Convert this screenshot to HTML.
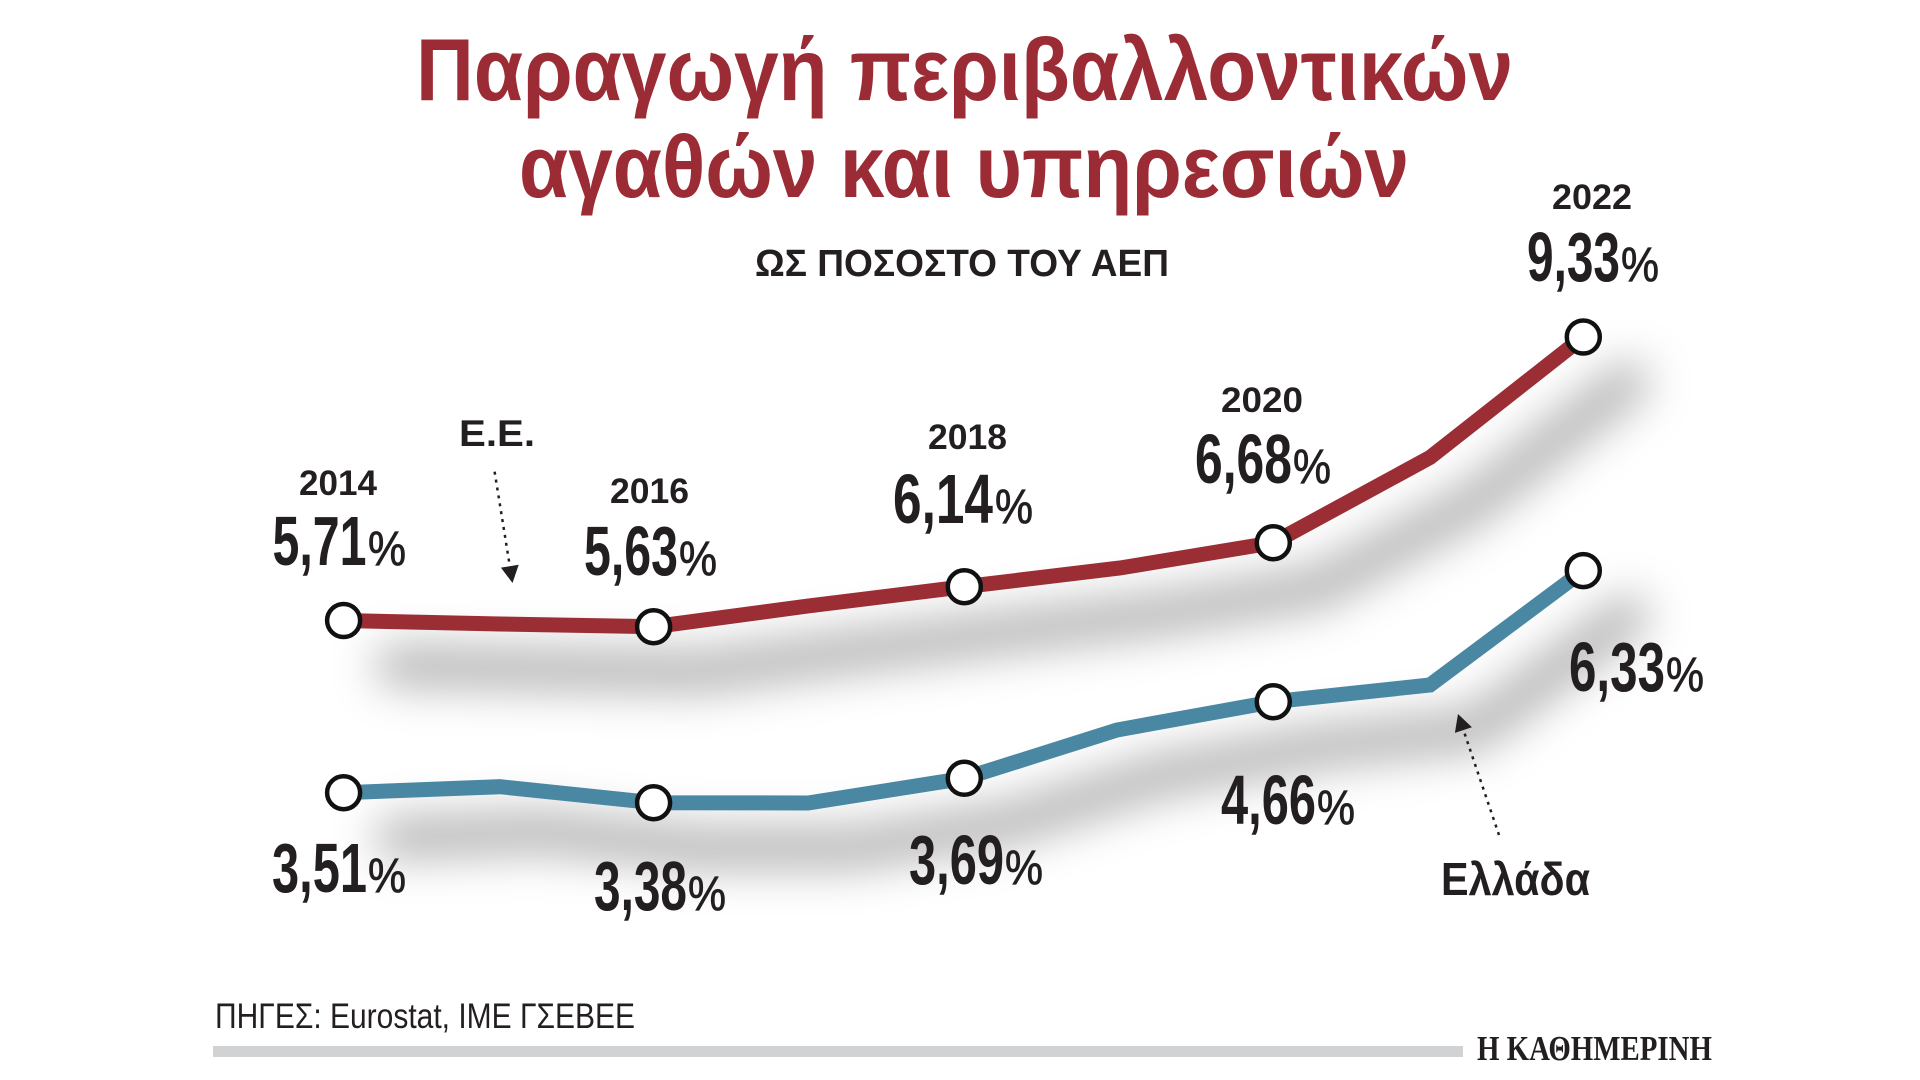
<!DOCTYPE html>
<html><head><meta charset="utf-8"><style>
html,body{margin:0;padding:0;background:#fff;width:1920px;height:1080px;overflow:hidden}
svg{display:block}
text{font-family:"Liberation Sans","Noto Sans CJK SC",sans-serif}
</style></head><body>
<svg width="1920" height="1080" viewBox="0 0 1920 1080" xmlns="http://www.w3.org/2000/svg">
<defs>
<filter id="sh" x="-30%" y="-80%" width="160%" height="260%"><feGaussianBlur stdDeviation="22"/></filter>
</defs>
<rect width="1920" height="1080" fill="#fff"/>
<!-- Title -->
<text x="416" y="100" font-size="88" font-weight="bold" fill="#9b2c35" textLength="1097" lengthAdjust="spacingAndGlyphs">Παραγωγή περιβαλλοντικών</text>
<text x="519" y="197" font-size="88" font-weight="bold" fill="#9b2c35" textLength="890" lengthAdjust="spacingAndGlyphs">αγαθών και υπηρεσιών</text>
<text x="755" y="276" font-size="38" font-weight="bold" fill="#231f20" textLength="414" lengthAdjust="spacingAndGlyphs">ΩΣ ΠΟΣΟΣΤΟ ΤΟΥ ΑΕΠ</text>

<!-- shadows -->
<g filter="url(#sh)" transform="translate(45,45)" fill="none" stroke="#000" stroke-opacity="0.3" stroke-width="40" stroke-linejoin="round" stroke-linecap="round">
<polyline points="350,620.5 500,624 653.6,626.7 808,606 964.3,586.7 1120,568 1273.3,542.7 1430,457.5 1583.3,337"/>
<polyline points="350,792.7 500,786.7 653.6,802.7 808,803 964.3,778.3 1117,730 1273.3,701.7 1430,685 1583.3,570.6"/>
</g>

<!-- lines -->
<polyline fill="none" stroke="#9b2d35" stroke-width="15" stroke-linejoin="miter" points="343.6,620.5 500,624 653.6,626.7 808,606 964.3,586.7 1120,568 1273.3,542.7 1430,457.5 1583.3,337"/>
<polyline fill="none" stroke="#4a87a2" stroke-width="15" stroke-linejoin="miter" points="343.6,792.7 500,786.7 653.6,802.7 808,803 964.3,778.3 1117,730 1273.3,701.7 1430,685 1583.3,570.6"/>

<!-- markers -->
<g fill="#fff" stroke="#111" stroke-width="4.5">
<circle cx="343.6" cy="620.5" r="16.5"/>
<circle cx="653.6" cy="626.7" r="16.5"/>
<circle cx="964.3" cy="586.7" r="16.5"/>
<circle cx="1273.3" cy="542.7" r="16.5"/>
<circle cx="1583.3" cy="337" r="16.5"/>
<circle cx="343.6" cy="792.7" r="16.5"/>
<circle cx="653.6" cy="802.7" r="16.5"/>
<circle cx="964.3" cy="778.3" r="16.5"/>
<circle cx="1273.3" cy="701.7" r="16.5"/>
<circle cx="1583.3" cy="570.6" r="16.5"/>
</g>

<!-- year labels -->
<g font-size="35" font-weight="bold" fill="#231f20">
<text x="299" y="495" textLength="78" lengthAdjust="spacingAndGlyphs">2014</text>
<text x="610" y="503" textLength="79" lengthAdjust="spacingAndGlyphs">2016</text>
<text x="928" y="449" textLength="79" lengthAdjust="spacingAndGlyphs">2018</text>
<text x="1221" y="412" textLength="82" lengthAdjust="spacingAndGlyphs">2020</text>
<text x="1552" y="209" textLength="80" lengthAdjust="spacingAndGlyphs">2022</text>
</g>

<!-- value labels -->
<g fill="#231f20">
<g font-size="70" font-weight="bold">
<text x="272.5" y="565" textLength="94" lengthAdjust="spacingAndGlyphs">5,71</text>
<text x="584" y="575" textLength="94" lengthAdjust="spacingAndGlyphs">5,63</text>
<text x="893" y="523" textLength="100" lengthAdjust="spacingAndGlyphs">6,14</text>
<text x="1195" y="483" textLength="97" lengthAdjust="spacingAndGlyphs">6,68</text>
<text x="1527" y="281" textLength="93" lengthAdjust="spacingAndGlyphs">9,33</text>
<text x="272" y="892" textLength="95" lengthAdjust="spacingAndGlyphs">3,51</text>
<text x="594" y="910" textLength="93" lengthAdjust="spacingAndGlyphs">3,38</text>
<text x="909" y="884" textLength="95" lengthAdjust="spacingAndGlyphs">3,69</text>
<text x="1221" y="824" textLength="95" lengthAdjust="spacingAndGlyphs">4,66</text>
<text x="1569" y="691" textLength="96" lengthAdjust="spacingAndGlyphs">6,33</text>
</g>
<g font-size="48" stroke="#231f20" stroke-width="0.8">
<text x="368" y="565" textLength="38" lengthAdjust="spacingAndGlyphs">%</text>
<text x="679" y="575" textLength="38" lengthAdjust="spacingAndGlyphs">%</text>
<text x="995" y="523" textLength="38" lengthAdjust="spacingAndGlyphs">%</text>
<text x="1293" y="483" textLength="38" lengthAdjust="spacingAndGlyphs">%</text>
<text x="1621" y="281" textLength="38" lengthAdjust="spacingAndGlyphs">%</text>
<text x="368" y="892" textLength="38" lengthAdjust="spacingAndGlyphs">%</text>
<text x="688" y="910" textLength="38" lengthAdjust="spacingAndGlyphs">%</text>
<text x="1005" y="884" textLength="38" lengthAdjust="spacingAndGlyphs">%</text>
<text x="1317" y="824" textLength="38" lengthAdjust="spacingAndGlyphs">%</text>
<text x="1666" y="691" textLength="38" lengthAdjust="spacingAndGlyphs">%</text>
</g>
</g>

<!-- series labels & arrows -->
<text x="459" y="446" font-size="37" font-weight="bold" fill="#231f20" textLength="76" lengthAdjust="spacingAndGlyphs">Ε.Ε.</text>
<line x1="494.6" y1="471.7" x2="509.8" y2="566" stroke="#231f20" stroke-width="2.5" stroke-dasharray="3,5"/>
<polygon points="512.5,583 518.7,564.8 500.9,567.6" fill="#231f20"/>

<text x="1441" y="895" font-size="46" font-weight="bold" fill="#231f20" textLength="149" lengthAdjust="spacingAndGlyphs">Ελλάδα</text>
<line x1="1499" y1="835" x2="1463.4" y2="730" stroke="#231f20" stroke-width="2.5" stroke-dasharray="3,5"/>
<polygon points="1458,714 1471.9,727.3 1454.9,732.9" fill="#231f20"/>

<!-- footer -->
<text x="215" y="1028" font-size="35" fill="#231f20" textLength="420" lengthAdjust="spacingAndGlyphs">ΠΗΓΕΣ: Eurostat, ΙΜΕ ΓΣΕΒΕΕ</text>
<rect x="213" y="1046" width="1250" height="11" fill="#d1d2d4"/>
<text x="1477" y="1060" font-size="35" font-weight="bold" fill="#231f20" style="font-family:'Liberation Serif','Noto Serif CJK SC',serif" textLength="235" lengthAdjust="spacingAndGlyphs">Η ΚΑΘΗΜΕΡΙΝΗ</text>
</svg>
</body></html>
